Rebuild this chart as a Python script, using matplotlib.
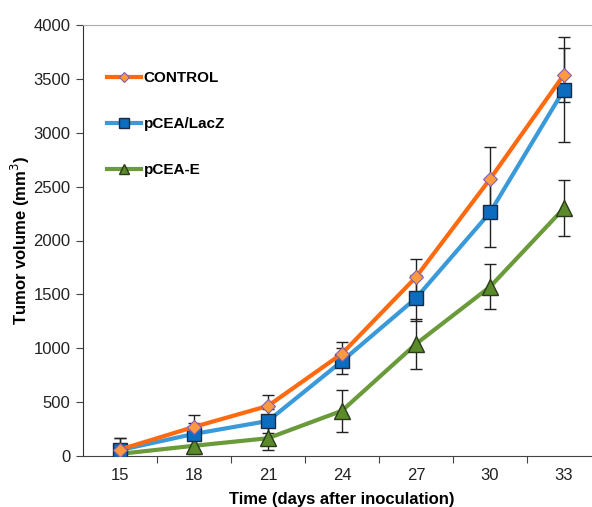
import matplotlib.pyplot as plt

plt.rcParams['font.family'] = ['Liberation Sans', 'DejaVu Sans']

# === data ===
days = [15, 18, 21, 24, 27, 30, 33]
control = [60, 270, 465, 950, 1660, 2570, 3540]
control_err = [110, 110, 100, 110, 165, 300, 250]
lacz = [55, 205, 325, 880, 1465, 2260, 3400]
lacz_err = [115, 100, 110, 120, 215, 320, 490]
pcea_e = [20, 95, 165, 420, 1040, 1570, 2300]
pcea_e_err = [30, 75, 110, 195, 235, 210, 260]
series_names = ["CONTROL", "pCEA/LacZ", "pCEA-E"]
y_ticks = [0, 500, 1000, 1500, 2000, 2500, 3000, 3500, 4000]

fig = plt.figure(figsize=(5.92, 5.07), dpi=100)
ax = fig.add_axes([83 / 592, 51 / 507, 518 / 592, 431 / 507])

tick_col = "#222222"

# error bars first so markers sit on top
for y, e in [(control, control_err), (lacz, lacz_err), (pcea_e, pcea_e_err)]:
    ax.errorbar(days, y, yerr=e, fmt="none", ecolor="#222222", elinewidth=1,
                capsize=4, capthick=1, zorder=2)

ax.plot(days, control, color="#FF6A10", lw=3, marker="D", ms=7,
        mfc="#FF9940", mec="#8060B0", mew=0.8, label=series_names[0], zorder=5)
ax.plot(days, lacz, color="#3A9AD9", lw=3, marker="s", ms=10.5,
        mfc="#0B6CC0", mec="#1A2A40", mew=1, label=series_names[1], zorder=4)
ax.plot(days, pcea_e, color="#6A9A3A", lw=3, marker="^", ms=11,
        mfc="#5A8A2A", mec="#2A3A1A", mew=1, label=series_names[2], zorder=3)

ax.set_xlim(13.5, 34.5)
ax.set_ylim(0, 4000)
ax.set_yticks(y_ticks)
ax.set_yticklabels([str(v) for v in y_ticks], fontsize=12, color=tick_col)

# category style x axis: labels at the days, tick marks between them
ax.set_xticks([16.5, 19.5, 22.5, 25.5, 28.5, 31.5])
ax.set_xticklabels([])
ax.set_xticks(days, minor=True)
ax.set_xticklabels([str(d) for d in days], minor=True, fontsize=12, color=tick_col)
ax.tick_params(axis="x", which="major", direction="out", length=5, color="#444444")
ax.tick_params(axis="x", which="minor", length=0, pad=9)
ax.tick_params(axis="y", direction="out", length=5, color="#444444", pad=4)

ax.spines["right"].set_visible(False)
ax.spines["top"].set_color("#AAAAAA")
ax.spines["left"].set_color("#333333")
ax.spines["bottom"].set_color("#444444")

ax.set_xlabel("Time (days after inoculation)", fontsize=12, fontweight="bold", labelpad=6)
ax.set_ylabel("Tumor volume (mm$^3$)", fontsize=12, fontweight="bold", labelpad=1)

leg = ax.legend(loc="upper left", bbox_to_anchor=(0.02, 0.925), frameon=False,
                labelspacing=2.1, handlelength=2.2, handletextpad=0.2,
                markerscale=0.7, prop={"weight": "bold", "size": 11})

fig.savefig("out.png", dpi=100)
